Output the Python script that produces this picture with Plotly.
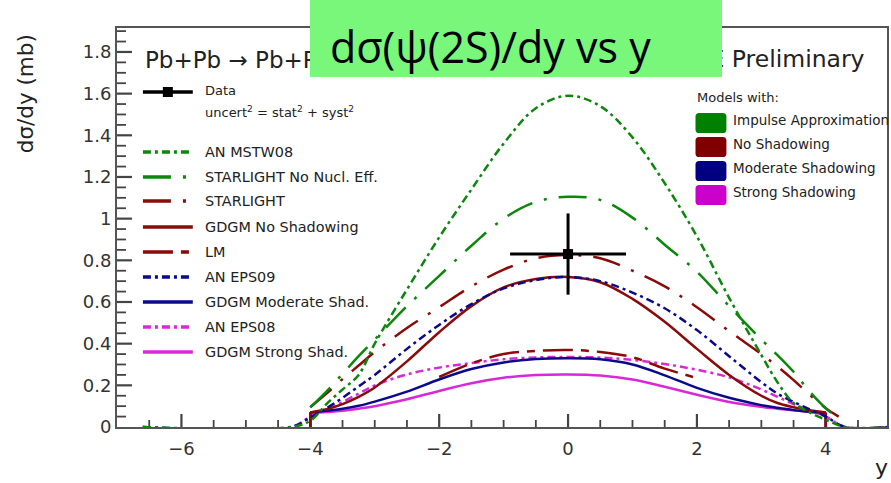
import plotly.graph_objects as go

# Rapidity grid shared by the model curves (|y| <= 4)
rap = [-4, -3.75, -3.5, -3.25, -3, -2.5, -2, -1.5, -1, -0.5, 0,
       0.5, 1, 1.5, 2, 2.5, 3, 3.25, 3.5, 3.75, 4]

# Model predictions, dsigma/dy in mb
an_mstw08 = [0.03, 0.11, 0.18, 0.25, 0.40, 0.66, 0.91, 1.14, 1.36, 1.53, 1.59,
             1.54, 1.39, 1.17, 0.915, 0.62, 0.345, 0.215, 0.115, 0.07, 0.035]
starlight_nonucl = [0.095, 0.17, 0.255, 0.34, 0.42, 0.58, 0.725, 0.87, 1.0, 1.08, 1.105,
                    1.09, 1.005, 0.875, 0.745, 0.58, 0.42, 0.345, 0.265, 0.17, 0.09]
starlight = [0.095, 0.16, 0.23, 0.295, 0.36, 0.475, 0.575, 0.675, 0.755, 0.81, 0.825,
             0.81, 0.75, 0.675, 0.575, 0.46, 0.35, 0.29, 0.225, 0.155, 0.09]
gdgm_noshad = [0.07, 0.085, 0.11, 0.145, 0.19, 0.315, 0.455, 0.58, 0.67, 0.71, 0.72,
               0.695, 0.615, 0.505, 0.375, 0.25, 0.15, 0.115, 0.095, 0.08, 0.07]
an_eps09 = [0.045, 0.09, 0.14, 0.195, 0.25, 0.375, 0.49, 0.59, 0.665, 0.705, 0.72,
            0.70, 0.645, 0.57, 0.465, 0.34, 0.215, 0.16, 0.12, 0.085, 0.05]
gdgm_modshad = [0.07, 0.078, 0.088, 0.102, 0.122, 0.17, 0.228, 0.278, 0.31, 0.326, 0.33,
                0.325, 0.30, 0.248, 0.188, 0.14, 0.105, 0.092, 0.081, 0.073, 0.068]
an_eps08 = [0.05, 0.085, 0.12, 0.16, 0.2, 0.252, 0.285, 0.307, 0.325, 0.334, 0.336,
            0.333, 0.322, 0.302, 0.275, 0.238, 0.18, 0.145, 0.11, 0.08, 0.05]
gdgm_strshad = [0.068, 0.072, 0.078, 0.088, 0.10, 0.133, 0.173, 0.21, 0.236, 0.249, 0.252,
                0.247, 0.228, 0.193, 0.155, 0.12, 0.097, 0.088, 0.08, 0.072, 0.066]

# LM is given for |y| < 2 only
rap_lm = [-2, -1.5, -1, -0.5, 0, 0.5, 1, 1.5, 2]
lm = [0.24, 0.305, 0.35, 0.365, 0.37, 0.36, 0.335, 0.28, 0.235]

# Zero tails of the AN curves outside their range
an_tail_left = [-6.6, -4.3]
an_tail_right = [4.3, 4.95]
# STARLIGHT curves run slightly past y = 4
starlight_end_y = [4.2]
starlight_nonucl_end = [0.04]
starlight_end = [0.05]

# ALICE measurement
data_y = [0.0]
data_val = [0.83]
data_err = [0.195]
data_xerr = [0.9]

# Axis ranges and tick positions (major / minor)
X_RANGE = [-7, 4.95]
Y_RANGE = [0, 1.915]
x_major = [-6, -4, -2, 0, 2, 4]
x_minor_step = 0.5
y_major = [0, 0.2, 0.4, 0.6, 0.8, 1.0, 1.2, 1.4, 1.6, 1.8]
y_minor_step = 0.05

GREEN = "#0b870b"
RED = "#8b0a0a"
NAVY = "#0a0a8a"
MAG = "#d829d8"
DASHDOT = "8px,4px,3px,4px"
STARDASH = "28px,12px,3px,12px"
LMDASH = "30px,8px,8px,8px"

# Frame geometry in pixels, for the in-frame legend, labels and tick marks
L, R, T, B = 117, 889, 28, 427
X_PER_PX = (X_RANGE[1] - X_RANGE[0]) / (R - L)
Y_PER_PX = (Y_RANGE[1] - Y_RANGE[0]) / (B - T)
AXC = "#444444"

fig = go.Figure()

# Inward-pointing tick marks along the bottom and left frame edges
def tick_trace(major):
    xs, ys = [], []
    n_x = int(round((X_RANGE[1] - X_RANGE[0]) / x_minor_step))
    for i in range(1, n_x + 1):
        xv = round(X_RANGE[0] + i * x_minor_step, 3)
        if xv >= X_RANGE[1]:
            break
        is_major = any(abs(xv - m) < 1e-6 for m in x_major)
        if is_major != major:
            continue
        ln = (13 if major else 7) * Y_PER_PX
        xs += [xv, xv, None]
        ys += [Y_RANGE[0], Y_RANGE[0] + ln, None]
    n_y = int(round((Y_RANGE[1] - Y_RANGE[0]) / y_minor_step))
    for i in range(1, n_y + 1):
        yv = round(Y_RANGE[0] + i * y_minor_step, 3)
        if yv >= Y_RANGE[1]:
            break
        is_major = any(abs(yv - m) < 1e-6 for m in y_major)
        if is_major != major:
            continue
        ln = (15 if major else 9) * X_PER_PX
        xs += [X_RANGE[0], X_RANGE[0] + ln, None]
        ys += [yv, yv, None]
    fig.add_trace(go.Scatter(x=xs, y=ys, mode="lines", showlegend=False,
                             connectgaps=False, hoverinfo="skip",
                             line=dict(color=AXC, width=2.2 if major else 1.8)))


tick_trace(True)
tick_trace(False)


def add_curve(x, y, color, dash, smooth=True):
    fig.add_trace(go.Scatter(x=x, y=y, mode="lines", showlegend=False,
                             line=dict(color=color, width=2.5, dash=dash,
                                       shape="spline" if smooth else "linear",
                                       smoothing=1.0),
                             hoverinfo="skip"))


def add_an(vals, color):
    add_curve(an_tail_left + rap + an_tail_right, [0, 0] + vals + [0, 0], color, DASHDOT)


def add_gdgm(vals, color):
    add_curve(rap, vals, color, "solid")
    # the calculation stops at |y| = 4
    add_curve([rap[0], rap[0]], [0, vals[0]], color, "solid", smooth=False)
    add_curve([rap[-1], rap[-1]], [vals[-1], 0], color, "solid", smooth=False)


add_gdgm(gdgm_strshad, MAG)
add_an(an_eps08, MAG)
add_gdgm(gdgm_modshad, NAVY)
add_curve(rap_lm, lm, RED, LMDASH)
add_gdgm(gdgm_noshad, RED)
add_an(an_eps09, NAVY)
add_curve(rap + starlight_end_y, starlight + starlight_end, RED, STARDASH)
add_curve(rap + starlight_end_y, starlight_nonucl + starlight_nonucl_end, GREEN, STARDASH)
add_an(an_mstw08, GREEN)

fig.add_trace(go.Scatter(
    x=data_y, y=data_val, mode="markers", showlegend=False,
    marker=dict(symbol="square", size=10, color="black"),
    error_y=dict(type="data", array=data_err, thickness=3, width=0, color="black"),
    error_x=dict(type="data", array=data_xerr, thickness=3, width=0, color="black"),
))


def fx(px):
    return (px - L) / (R - L)


def fy(py):
    return (B - py) / (B - T)


TXT = "#222222"
ROOT_FONT = "DejaVu Sans"
shapes = []
annotations = []

# Left legend: line samples and labels
legend_rows = [
    ("AN MSTW08", GREEN, DASHDOT, 152),
    ("STARLIGHT No Nucl. Eff.", GREEN, STARDASH, 177),
    ("STARLIGHT", RED, STARDASH, 201),
    ("GDGM No Shadowing", RED, "solid", 227),
    ("LM", RED, LMDASH, 252),
    ("AN EPS09", NAVY, DASHDOT, 277),
    ("GDGM Moderate Shad.", NAVY, "solid", 302),
    ("AN EPS08", MAG, DASHDOT, 327),
    ("GDGM Strong Shad.", MAG, "solid", 352),
]
for label, color, dash, py in legend_rows:
    shapes.append(dict(type="line", xref="paper", yref="paper",
                       x0=fx(143), x1=fx(193), y0=fy(py), y1=fy(py),
                       line=dict(color=color, width=3.5, dash=dash)))
    annotations.append(dict(xref="paper", yref="paper", x=fx(203), y=fy(py),
                            xanchor="left", yanchor="middle", showarrow=False,
                            text=label, font=dict(family=ROOT_FONT, size=14.4, color=TXT)))

# Data entry of the legend
shapes.append(dict(type="line", xref="paper", yref="paper",
                   x0=fx(143), x1=fx(193), y0=fy(92), y1=fy(92),
                   line=dict(color="black", width=3.5)))
shapes.append(dict(type="rect", xref="paper", yref="paper",
                   x0=fx(163), x1=fx(173), y0=fy(87), y1=fy(97),
                   fillcolor="black", line=dict(width=0)))
annotations.append(dict(xref="paper", yref="paper", x=fx(203), y=fy(90),
                        xanchor="left", yanchor="middle", showarrow=False,
                        text="Data", font=dict(family=ROOT_FONT, size=13, color=TXT)))
annotations.append(dict(xref="paper", yref="paper", x=fx(203), y=fy(112),
                        xanchor="left", yanchor="middle", showarrow=False,
                        text="uncert<sup>2</sup> = stat<sup>2</sup> + syst<sup>2</sup>",
                        font=dict(family=ROOT_FONT, size=13, color=TXT)))

# Right legend: model classes
annotations.append(dict(xref="paper", yref="paper", x=fx(697), y=fy(97),
                        xanchor="left", yanchor="middle", showarrow=False,
                        text="Models with:", font=dict(family=ROOT_FONT, size=13, color=TXT)))
model_rows = [
    ("Impulse Approximation", "#008000", 123),
    ("No Shadowing", "#800000", 147),
    ("Moderate Shadowing", "#000080", 171),
    ("Strong Shadowing", "#cc00cc", 195),
]
for label, color, py in model_rows:
    x0, x1 = fx(697), fx(728)
    y0, y1 = fy(py + 10), fy(py - 10)
    rx, ry = (x1 - x0) * 0.12, (y1 - y0) * 0.18
    path = (f"M{x0 + rx},{y0} L{x1 - rx},{y0} Q{x1},{y0} {x1},{y0 + ry} "
            f"L{x1},{y1 - ry} Q{x1},{y1} {x1 - rx},{y1} L{x0 + rx},{y1} "
            f"Q{x0},{y1} {x0},{y1 - ry} L{x0},{y0 + ry} Q{x0},{y0} {x0 + rx},{y0} Z")
    shapes.append(dict(type="path", xref="paper", yref="paper", path=path,
                       fillcolor=color, line=dict(width=0)))
    annotations.append(dict(xref="paper", yref="paper", x=fx(733), y=fy(py - 3),
                            xanchor="left", yanchor="middle", showarrow=False,
                            text=label, font=dict(family=ROOT_FONT, size=13.5, color=TXT)))

# Reaction and experiment labels
annotations.append(dict(xref="paper", yref="paper", x=fx(143), y=fy(60),
                        xanchor="left", yanchor="middle", showarrow=False,
                        text="Pb+Pb \u2192 Pb+Pb+\u03c8(2S)",
                        font=dict(family=ROOT_FONT, size=23, color=TXT)))
annotations.append(dict(xref="paper", yref="paper", x=fx(869), y=fy(59),
                        xanchor="right", yanchor="middle", showarrow=False,
                        text="ALICE Preliminary",
                        font=dict(family=ROOT_FONT, size=23.5, color=TXT)))

# Slide title on its green band
annotations.append(dict(xref="paper", yref="paper", x=fx(517), y=fy(38.5),
                        xanchor="center", yanchor="middle", showarrow=False,
                        text=" ", width=412, height=77, borderpad=0, borderwidth=0,
                        bgcolor="#78f77b"))
annotations.append(dict(xref="paper", yref="paper", x=fx(329), y=fy(46),
                        xanchor="left", yanchor="middle", showarrow=False,
                        text="d\u03c3(\u03c8(2S)/dy vs y",
                        font=dict(family="Open Sans", size=43, color="black")))

# Axis titles
annotations.append(dict(xref="paper", yref="paper", x=fx(25), y=fy(94),
                        xanchor="center", yanchor="middle", showarrow=False, textangle=-90,
                        text="d\u03c3/dy (mb)", font=dict(family=ROOT_FONT, size=21.5, color=TXT)))
annotations.append(dict(xref="paper", yref="paper", x=fx(883), y=fy(467),
                        xanchor="center", yanchor="middle", showarrow=False,
                        text="y", font=dict(family=ROOT_FONT, size=22, color=TXT)))

fig.update_layout(
    width=891, height=483,
    margin=dict(l=L, r=891 - R, t=T, b=483 - B),
    paper_bgcolor="white", plot_bgcolor="white",
    showlegend=False,
    shapes=shapes, annotations=annotations,
    xaxis=dict(range=X_RANGE, tickmode="array", tickvals=x_major, ticks="",
               showline=True, linecolor="#555555", linewidth=2,
               mirror=True, showgrid=False, zeroline=False, ticklabelstandoff=4,
               tickfont=dict(family=ROOT_FONT, size=18, color="#333")),
    yaxis=dict(range=Y_RANGE, tickmode="array", tickvals=y_major, ticks="",
               showline=True, linecolor="#555555", linewidth=2,
               mirror=True, showgrid=False, zeroline=False, ticksuffix=" ",
               tickfont=dict(family=ROOT_FONT, size=18, color="#333")),
)

fig.write_html("out.html")
